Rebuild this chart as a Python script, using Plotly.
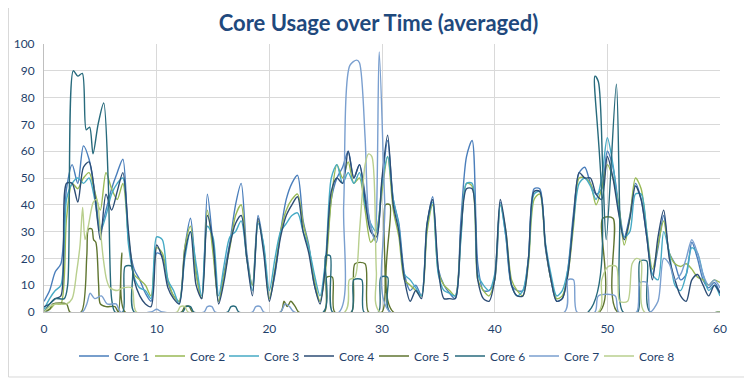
import plotly.graph_objects as go

# ---------------- data ----------------
time = [i / 2 for i in range(121)]  # 0 .. 60 s, every 0.5 s

core1 = [4, 8, 15, 18, 46, 55, 48, 62, 57, 45,
         31, 38, 46, 52, 57, 27, 16, 12, 7, 4,
         22, 21, 11, 6, 4, 24, 35, 15, 5, 44,
         25, 4, 15, 26, 40, 48, 22, 10, 36, 24,
         5, 14, 30, 42, 48, 51, 34, 25, 10, 4,
         18, 42, 50, 54, 60, 50, 55, 44, 32, 26,
         48, 64, 42, 33, 14, 8, 10, 6, 32, 43,
         16, 10, 7, 5, 34, 58, 64, 18, 8, 8,
         12, 41, 28, 10, 8, 8, 20, 46, 46, 24,
         12, 4, 5, 16, 37, 52, 54, 48, 44, 46,
         60, 54, 40, 28, 36, 48, 42, 28, 14, 24,
         36, 22, 18, 12, 14, 26, 20, 12, 9, 11,
         7]

core2 = [0, 1, 3, 3, 35, 48, 46, 50, 52, 45,
         38, 52, 46, 42, 48, 28, 14, 12, 10, 6,
         24, 22, 12, 6, 4, 24, 32, 14, 5, 38,
         22, 4, 14, 24, 36, 40, 20, 10, 34, 24,
         5, 16, 30, 38, 42, 44, 33, 24, 12, 4,
         16, 42, 55, 50, 56, 48, 50, 38, 26, 30,
         45, 58, 38, 28, 12, 10, 8, 6, 30, 40,
         15, 10, 8, 6, 28, 48, 47, 12, 8, 6,
         12, 40, 30, 12, 8, 6, 18, 42, 44, 25,
         12, 5, 6, 14, 32, 50, 50, 48, 40, 46,
         55, 50, 40, 25, 35, 50, 46, 30, 16, 25,
         34, 22, 18, 17, 18, 16, 13, 12, 10, 12,
         11]

core3 = [1, 5, 8, 10, 42, 48, 50, 48, 50, 42,
         30, 36, 44, 48, 50, 25, 13, 9, 8, 5,
         28, 27, 12, 8, 3, 20, 30, 18, 6, 32,
         28, 6, 18, 28, 30, 34, 20, 8, 33, 25,
         8, 20, 30, 33, 36, 37, 30, 24, 14, 6,
         20, 50, 55, 48, 52, 48, 52, 40, 33, 30,
         48, 58, 42, 32, 14, 12, 9, 6, 33, 41,
         14, 8, 7, 6, 27, 48, 48, 14, 10, 8,
         14, 40, 28, 10, 6, 8, 20, 44, 45, 26,
         14, 6, 8, 16, 34, 48, 50, 47, 42, 50,
         65, 55, 38, 28, 30, 44, 44, 30, 14, 12,
         30, 22, 10, 8, 14, 24, 22, 14, 8, 10,
         6]

core4 = [2, 3, 5, 6, 48, 48, 41, 54, 56, 44,
         27, 44, 38, 45, 52, 30, 12, 6, 3, 2,
         25, 20, 9, 5, 3, 22, 30, 10, 5, 36,
         26, 3, 12, 25, 33, 36, 20, 6, 35, 22,
         4, 15, 28, 36, 40, 43, 30, 22, 10, 3,
         18, 45, 50, 48, 60, 50, 55, 42, 30, 28,
         50, 66, 40, 30, 12, 4, 8, 5, 33, 42,
         16, 5, 5, 5, 30, 46, 46, 12, 5, 4,
         12, 42, 30, 10, 6, 6, 20, 45, 45, 25,
         12, 4, 5, 14, 35, 52, 50, 50, 44, 42,
         58, 50, 37, 27, 35, 47, 42, 28, 12, 28,
         38, 20, 12, 6, 4, 12, 14, 10, 6, 10,
         7]

# mostly idle cores: (time, value) samples
core5_pts = [(0, 0), (0.5, 1), (0.8, 3), (2.0, 3), (2.3, 0), (3.3, 0), (3.8, 21), (3.95, 31),
             (4.25, 31), (4.4, 27), (4.6, 26), (4.85, 10), (5.0, 3), (5.5, 2), (6.3, 2), (6.6, 0),
             (6.9, 22), (7.2, 0), (12.2, 0), (12.5, 2), (12.9, 2), (13.2, 0), (21.0, 0), (21.3, 4),
             (21.6, 2), (21.9, 4), (22.3, 2), (22.6, 0), (24.9, 0), (25.1, 13), (25.6, 13), (25.8, 0),
             (27.3, 0), (27.6, 18), (28.5, 18), (28.8, 0), (30.0, 0), (30.3, 40), (30.7, 40), (31.0, 0),
             (49.3, 0), (49.6, 35), (50.5, 35), (50.9, 0), (60, 0)]

core6_pts = [(0, 0), (0.5, 3), (1, 5), (1.8, 5), (2.1, 10), (2.6, 90), (3.0, 88), (3.4, 89),
             (3.75, 68), (4.05, 69), (4.35, 59), (4.8, 70), (5.3, 78), (5.7, 49), (6.0, 5), (6.3, 0),
             (7.0, 0), (7.2, 17), (7.8, 17), (8.0, 0), (12.3, 0), (12.6, 2), (13.0, 2), (13.3, 0),
             (16.3, 0), (16.6, 2), (17.0, 2), (17.3, 0), (24.8, 0), (25.0, 21), (25.4, 21), (25.6, 0),
             (27.3, 0), (27.5, 12), (28.2, 12), (28.4, 0), (29.7, 0), (29.9, 13), (30.5, 13), (30.7, 0),
             (48.3, 0), (48.9, 88), (49.2, 86), (49.6, 52), (49.9, 27), (50.8, 85), (51.1, 37),
             (51.4, 0), (52.7, 0), (52.9, 19), (53.5, 19), (53.8, 0), (60, 0)]

core7_pts = [(0, 0), (3.4, 0), (3.8, 3), (4.1, 7), (4.5, 5), (5.1, 6), (5.6, 3), (6.4, 3), (6.8, 0),
             (9.5, 0), (10.0, 1), (10.5, 0), (14.2, 0), (14.5, 2), (14.9, 2), (15.2, 0), (18.5, 0),
             (18.8, 2), (19.2, 2), (19.5, 0), (21.0, 0), (21.4, 3), (21.8, 2), (22.2, 0), (26.2, 0),
             (26.6, 40), (27.15, 92), (27.75, 94), (28.0, 93), (28.5, 65), (28.8, 37), (29.35, 27),
             (29.75, 97), (30.25, 40), (30.7, 0), (46.2, 0), (46.5, 12), (47.0, 12), (47.3, 0),
             (48.9, 0), (49.2, 6), (50.7, 6), (51.0, 0), (52.6, 0), (52.9, 11), (53.5, 11), (53.8, 0),
             (54.5, 4), (55, 20), (55.5, 18), (56, 12), (56.5, 14), (57, 20), (57.5, 27), (58, 22),
             (58.5, 14), (59, 10), (59.5, 12), (60, 9)]

core8_pts = [(0, 0), (0.5, 2), (1.0, 3), (2.0, 3), (2.5, 5), (2.9, 15), (3.2, 25), (3.43, 39),
             (3.64, 27), (3.93, 32), (4.38, 41), (4.67, 42), (4.97, 32), (5.26, 20), (5.56, 12),
             (5.86, 9), (6.5, 8), (7.0, 9), (7.8, 9), (8.2, 0), (11.8, 0), (12.1, 2), (12.5, 2),
             (12.8, 0), (26.7, 0), (27.1, 12), (27.6, 13), (28.0, 30), (28.5, 55), (28.8, 59),
             (29.1, 58), (29.5, 15), (29.8, 0), (49.2, 0), (49.5, 12), (50.1, 17), (50.8, 17),
             (51.1, 4), (51.8, 4), (52.2, 18), (52.6, 20), (53.0, 19), (53.3, 0), (60, 0)]

names = ["Core 1", "Core 2", "Core 3", "Core 4", "Core 5", "Core 6", "Core 7", "Core 8"]
colors = ["#4A7EBB", "#98B954", "#46AAC5", "#2C4D75", "#5F7530", "#276A7C", "#7A9FCF", "#B9CF8E"]

x_ticks = [0, 10, 20, 30, 40, 50, 60]
y_ticks = [0, 10, 20, 30, 40, 50, 60, 70, 80, 90, 100]

# ---------------- figure ----------------
series = [
    (time, core1), (time, core2), (time, core3), (time, core4),
    ([p[0] for p in core5_pts], [p[1] for p in core5_pts]),
    ([p[0] for p in core6_pts], [p[1] for p in core6_pts]),
    ([p[0] for p in core7_pts], [p[1] for p in core7_pts]),
    ([p[0] for p in core8_pts], [p[1] for p in core8_pts]),
]

TXT = "#1F3F6B"
FONT = "Lato, 'Open Sans', sans-serif"

# one single-entry legend per core, laid out in a row below the plot
legend_ids = ["legend"] + ["legend%d" % k for k in range(2, 9)]
legend_x = [0.0444, 0.1568, 0.2663, 0.3772, 0.4882, 0.6006, 0.7101, 0.8210]

fig = go.Figure()
for (xs, ys), name, col, lid in zip(series, names, colors, legend_ids):
    fig.add_trace(go.Scatter(x=xs, y=ys, name=name, mode="lines", legend=lid,
                             line=dict(color=col, width=1.4, shape="spline", smoothing=0.8)))

legend_layout = {}
for lid, lx in zip(legend_ids, legend_x):
    legend_layout[lid] = dict(orientation="h", x=lx, xanchor="left", y=-0.164, yanchor="middle",
                              font=dict(family=FONT, size=12, color=TXT), itemwidth=30,
                              bgcolor="rgba(0,0,0,0)")

# page body has an 8px margin, so the figure is 8px smaller and shifted
fig.update_layout(
    width=744, height=375,
    margin=dict(l=36, r=32, t=36, b=71, autoexpand=False),
    paper_bgcolor="white", plot_bgcolor="white",
    title=dict(text="<b>Core Usage over Time (averaged)</b>", x=0.498, xanchor="center",
               y=0.98, yanchor="top", pad=dict(t=0, b=0),
               font=dict(family=FONT, size=22, color="#1F497D")),
    xaxis=dict(range=[0, 60], tickvals=x_ticks, showgrid=True, gridcolor="#D9D9D9", gridwidth=1,
               showline=True, linecolor="#BFBFBF", zeroline=False, ticks="", automargin=False,
               ticklabelstandoff=6,
               tickfont=dict(family=FONT, size=12, color=TXT)),
    yaxis=dict(range=[0, 100], tickvals=y_ticks, showgrid=True, gridcolor="#D9D9D9", gridwidth=1,
               showline=True, linecolor="#BFBFBF", zeroline=False, ticks="", automargin=False,
               ticklabelstandoff=6,
               tickfont=dict(family=FONT, size=12, color=TXT)),
    showlegend=True,
    **legend_layout,
)

# chart-area border (left, bottom, right)
fig.add_shape(type="path", xref="paper", yref="paper",
              path="M -0.0525,1.2 L -0.0525,-0.2425 L 1.040,-0.2425 L 1.040,1.2",
              line=dict(color="#D9D9D9", width=1))

fig.write_html("out.html")
